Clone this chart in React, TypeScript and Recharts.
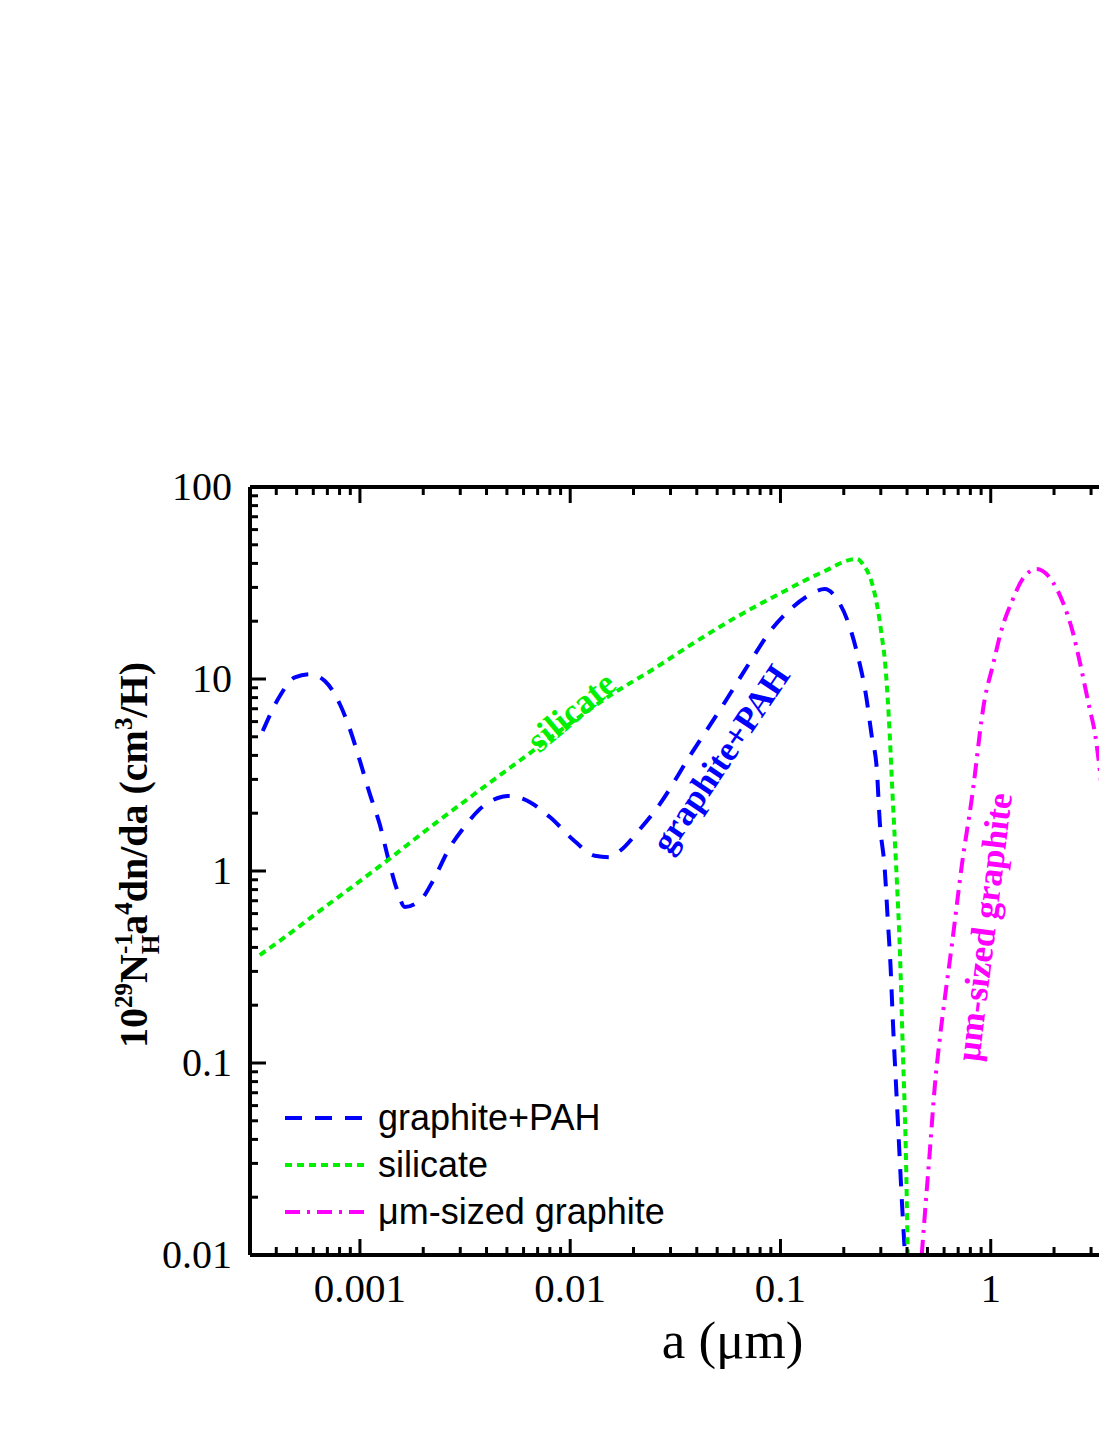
import React from 'react';
import { LineChart, Line, XAxis, YAxis, Legend, ReferenceDot } from 'recharts';

const SERIF = '"Liberation Serif", "Times New Roman", serif';
const SANS = '"Liberation Sans", Arial, sans-serif';

// graphite+PAH size distribution (a in micron, 10^29 a^4 dn/da / nH)
const pahSize = [
  3.45e-4, 4.16e-4, 4.9e-4, 5.78e-4, 6.81e-4, 8.02e-4, 8.95e-4, 1.0e-3, 1.114e-3, 1.244e-3,
  1.358e-3, 1.497e-3, 1.636e-3, 1.824e-3, 1.968e-3, 2.222e-3, 2.648e-3, 3.223e-3, 3.715e-3, 4.525e-3,
  5.05e-3, 6.01e-3, 8.0e-3, 1.051e-2, 1.309e-2, 1.543e-2, 1.721e-2, 2.143e-2, 2.667e-2, 3.705e-2,
  5.26e-2, 7.31e-2, 8.89e-2, 0.1107, 0.1349, 0.1625, 0.1854, 0.2089, 0.2332, 0.2546,
  0.2717, 0.2871, 0.2965, 0.3133, 0.3237, 0.3343, 0.342, 0.3533, 0.3652, 0.3774, 0.391,
];
const pahValue = [
  5.36, 8.16, 10.2, 10.6, 9.77, 7.41, 5.49, 3.74, 2.52, 1.74,
  1.18, 0.806, 0.649, 0.673, 0.715, 0.887, 1.3, 1.76, 2.1, 2.4,
  2.46, 2.37, 1.91, 1.43, 1.2, 1.18, 1.27, 1.65, 2.23, 3.97,
  7.15, 12.7, 17.6, 22.9, 27.1, 29.4, 26.1, 20.0, 13.2, 8.35,
  5.05, 3.4, 1.82, 1.02, 0.562, 0.309, 0.17, 0.0826, 0.0402, 0.0196, 0.01,
];

// silicate
const silSize = [
  3.34e-4, 4.3e-4, 6.44e-4, 1.343e-3, 2.08e-3, 3.44e-3, 5.95e-3, 1.028e-2, 1.6e-2, 2.47e-2,
  3.83e-2, 5.93e-2, 0.1026, 0.1589, 0.2306, 0.2462, 0.2748, 0.2902, 0.3033, 0.3133,
  0.3273, 0.342, 0.3573, 0.3691, 0.3817, 0.3944, 0.403,
];
const silValue = [
  0.365, 0.445, 0.62, 1.13, 1.64, 2.48, 3.86, 6.0, 8.4, 11.2,
  15.3, 20.5, 28.4, 36.1, 42.2, 39.7, 30.5, 23.2, 16.7, 12.7,
  6.41, 2.37, 0.909, 0.407, 0.118, 0.0357, 0.01,
];

// micron-sized graphite
const bigSize = [
  0.4698, 0.4854, 0.5129, 0.542, 0.5722, 0.6041, 0.6525, 0.7278, 0.812, 0.9365,
  1.022, 1.128, 1.259, 1.419, 1.655, 1.972, 2.2, 2.454, 2.65, 2.956,
  3.123, 3.373, 3.56, 3.75,
];
const bigValue = [
  0.01, 0.016, 0.0344, 0.0759, 0.1334, 0.2155, 0.407, 1.062, 2.37, 7.87,
  11.7, 18.2, 25.2, 33.2, 37.4, 32.0, 25.2, 17.6, 12.3, 6.98,
  5.3, 2.67, 1.38, 0.8,
];

const xMajor = [0.001, 0.01, 0.1, 1, 10];
const xMajorLabels = ['0.001', '0.01', '0.1', '1', ''];
const yMajor = [0.01, 0.1, 1, 10, 100];
const yMajorLabels = ['0.01', '0.1', '1', '10', '100'];
const minorSteps = [2, 3, 4, 5, 6, 7, 8, 9];

const X_DOMAIN: [number, number] = [3e-4, 10];
const Y_DOMAIN: [number, number] = [0.01, 100];

const withMinors = (majors: number[], lo: number, hi: number) => {
  const out: number[] = [];
  [majors[0] / 10, ...majors].forEach((m) => {
    out.push(m);
    minorSteps.forEach((s) => out.push(m * s));
  });
  return out.filter((v) => v >= lo * 0.999 && v <= hi * 1.001).map((v) => +v.toPrecision(6));
};
const xTicks = withMinors(xMajor, X_DOMAIN[0], X_DOMAIN[1]);
const yTicks = withMinors(yMajor, Y_DOMAIN[0], Y_DOMAIN[1]);

const toPoints = (a: number[], v: number[]) => a.map((x, i) => ({ a: x, v: v[i] }));

const series = [
  { name: 'graphite+PAH', color: '#0000ff', dash: '17 13', data: toPoints(pahSize, pahValue) },
  { name: 'silicate', color: '#00f000', dash: '7 5', data: toPoints(silSize, silValue) },
  { name: '\u03bcm-sized graphite', color: '#ff00ff', dash: '15 7 3 7', data: toPoints(bigSize, bigValue) },
];

const majorIndex = (v: number, majors: number[]) => majors.findIndex((m) => Math.abs(m - v) / m < 1e-6);

const BottomTick = ({ x, y, payload }: any) => {
  const i = majorIndex(payload.value, xMajor);
  return (
    <g>
      <line x1={x} x2={x} y1={y} y2={y - (i >= 0 ? 16 : 8)} stroke="#000" strokeWidth={3} />
      {i >= 0 && xMajorLabels[i] && (
        <text x={x} y={y + 47} textAnchor="middle" fontFamily={SERIF} fontSize={41} fill="#000">
          {xMajorLabels[i]}
        </text>
      )}
    </g>
  );
};

const TopTick = ({ x, y, payload }: any) => {
  const i = majorIndex(payload.value, xMajor);
  return <line x1={x} x2={x} y1={y} y2={y + (i >= 0 ? 16 : 8)} stroke="#000" strokeWidth={3} />;
};

const LeftTick = ({ x, y, payload }: any) => {
  const i = majorIndex(payload.value, yMajor);
  return (
    <g>
      <line x1={x} x2={x + (i >= 0 ? 16 : 8)} y1={y} y2={y} stroke="#000" strokeWidth={3} />
      {i >= 0 && (
        <text x={x - 18} y={y + 13} textAnchor="end" fontFamily={SERIF} fontSize={40} fill="#000">
          {yMajorLabels[i]}
        </text>
      )}
    </g>
  );
};

const XTitle = (props: any) => {
  const vb = props.viewBox;
  return (
    <text x={vb.x + vb.width / 2 + 7} y={vb.y + 103} textAnchor="middle" fontFamily={SERIF} fontSize={53} fill="#000">
      a ({'\u03bc'}m)
    </text>
  );
};

const YTitle = (props: any) => {
  const vb = props.viewBox;
  const cy = vb.y + vb.height / 2 - 16;
  return (
    <text
      transform={`translate(139, ${cy}) rotate(-90)`}
      textAnchor="middle"
      fontFamily={SERIF}
      fontWeight="bold"
      fontSize={40}
      fill="#000"
    >
      10
      <tspan dy={-15} fontSize={25}>29</tspan>
      <tspan dy={15}>N</tspan>
      <tspan dy={-15} fontSize={25}>-1</tspan>
      <tspan dx={-21} dy={27} fontSize={25}>H</tspan>
      <tspan dy={-12}>a</tspan>
      <tspan dy={-15} fontSize={25}>4</tspan>
      <tspan dy={15}>dn/da (cm</tspan>
      <tspan dy={-15} fontSize={25}>3</tspan>
      <tspan dy={15}>/H)</tspan>
    </text>
  );
};

const renderLegend = () => (
  <div>
    {series.map((s) => (
      <div key={s.name} style={{ display: 'flex', alignItems: 'center', height: 47 }}>
        <svg width={93} height={10} style={{ flex: 'none' }}>
          <line x1={0} y1={5} x2={83} y2={5} stroke={s.color} strokeWidth={4} strokeDasharray={s.dash} />
        </svg>
        <span style={{ fontFamily: SANS, fontSize: 36, color: '#000', whiteSpace: 'nowrap', lineHeight: '47px' }}>
          {s.name}
        </span>
      </div>
    ))}
  </div>
);

// in-plot labels: anchor point in data units, text baseline offset in px
const annotations = [
  { text: 'silicate', a: 0.0113, v: 5.85, angle: -40, dy: -4, color: '#00f000' },
  { text: 'graphite+PAH', a: 0.0518, v: 3.85, angle: -56, dy: 12, color: '#0000ff' },
  { text: '\u03bcm-sized graphite', a: 0.926, v: 0.511, angle: -83, dy: 12, color: '#ff00ff' },
];

const axisLine = { stroke: '#000', strokeWidth: 4 };

const App: React.FC = () => {
  return (
    <div style={{ width: 1099, height: 1377, overflow: 'hidden', background: '#fff' }}>
      <LineChart width={1203} height={1377} margin={{ top: 478, right: 10, bottom: 0, left: 0 }}>
        <XAxis
          dataKey="a"
          type="number"
          scale="log"
          domain={X_DOMAIN}
          allowDataOverflow
          ticks={xTicks}
          interval={0}
          height={130}
          tickSize={0}
          tickMargin={0}
          tickLine={false}
          tick={<BottomTick />}
          axisLine={axisLine}
          label={XTitle}
        />
        <XAxis
          xAxisId="top"
          dataKey="a"
          orientation="top"
          type="number"
          scale="log"
          domain={X_DOMAIN}
          allowDataOverflow
          ticks={xTicks}
          interval={0}
          height={1}
          tickSize={0}
          tickMargin={0}
          tickLine={false}
          tick={<TopTick />}
          axisLine={axisLine}
        />
        <YAxis
          dataKey="v"
          type="number"
          scale="log"
          domain={Y_DOMAIN}
          allowDataOverflow
          ticks={yTicks}
          interval={0}
          width={242}
          tickSize={0}
          tickMargin={0}
          tickLine={false}
          tick={<LeftTick />}
          axisLine={axisLine}
          label={YTitle}
        />
        {series.map((s) => (
          <Line
            key={s.name}
            name={s.name}
            data={s.data}
            dataKey="v"
            type="monotone"
            stroke={s.color}
            strokeWidth={4}
            strokeDasharray={s.dash}
            dot={false}
            activeDot={false}
            isAnimationActive={false}
          />
        ))}
        {/* invisible copy bound to the top axis so the mirrored frame axis gets drawn */}
        <Line
          xAxisId="top"
          data={series[1].data}
          dataKey="v"
          stroke="none"
          dot={false}
          activeDot={false}
          legendType="none"
          isAnimationActive={false}
        />
        {annotations.map((n) => (
          <ReferenceDot
            key={n.text}
            x={n.a}
            y={n.v}
            r={0}
            shape={(p: any) => (
              <text
                transform={`translate(${p.cx}, ${p.cy}) rotate(${n.angle})`}
                textAnchor="middle"
                dy={n.dy}
                fontFamily={SERIF}
                fontWeight="bold"
                fontSize={35}
                fill={n.color}
              >
                {n.text}
              </text>
            )}
          />
        ))}
        <Legend
          layout="vertical"
          align="center"
          verticalAlign="middle"
          content={renderLegend}
          wrapperStyle={{ left: 277, top: 1086, width: 460, height: 141 }}
        />
      </LineChart>
    </div>
  );
};

export default App;
